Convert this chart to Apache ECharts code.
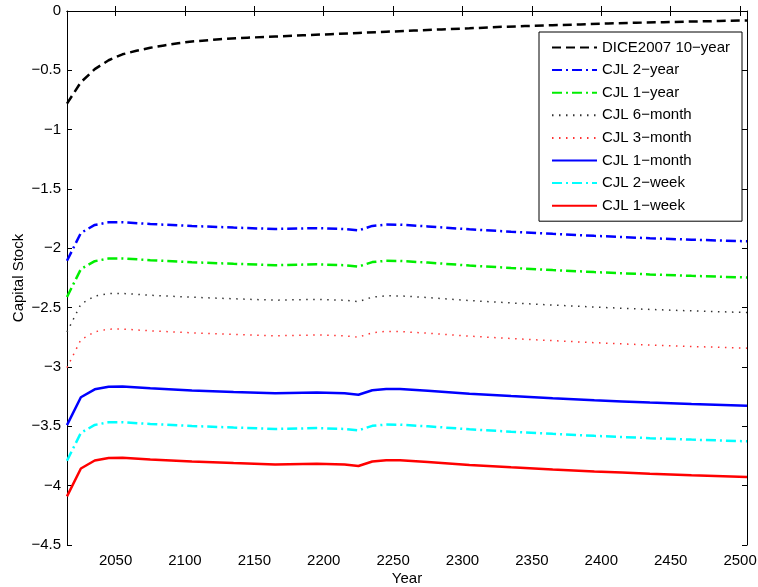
<!DOCTYPE html>
<html>
<head>
<meta charset="utf-8">
<script src="https://cdn.jsdelivr.net/npm/echarts@6/dist/echarts.min.js"></script>
<style>
  html, body { margin: 0; padding: 0; background: #fff; }
  #chart { width: 758px; height: 587px; }
</style>
</head>
<body>
<div id="chart"></div>
<script>
// Capital stock paths, DICE2007 10-year step vs CJL time steps
const diceYears = [2015, 2025, 2035, 2045, 2055, 2065, 2075, 2085, 2095, 2105, 2125, 2145, 2165, 2185, 2205,
  2225, 2245, 2265, 2285, 2305, 2325, 2345, 2365, 2385, 2405, 2425, 2445, 2465, 2485, 2505];
const dice10y = [-0.78, -0.60, -0.49, -0.415, -0.365, -0.335, -0.31, -0.29, -0.272, -0.257, -0.238, -0.225, -0.215, -0.205, -0.195,
  -0.185, -0.175, -0.165, -0.155, -0.146, -0.135, -0.127, -0.12, -0.113, -0.105, -0.099, -0.094, -0.089, -0.084, -0.08];

const cjlYears = [2015, 2025, 2035, 2045, 2055, 2075, 2105, 2135, 2165, 2195, 2215, 2225,
  2235, 2245, 2255, 2275, 2305, 2335, 2365, 2395, 2415, 2435, 2465, 2505];
const cjl2year = [-2.105, -1.87, -1.803, -1.781, -1.78, -1.795, -1.812, -1.825, -1.837, -1.83, -1.837, -1.849,
  -1.811, -1.80, -1.801, -1.815, -1.84, -1.86, -1.878, -1.895, -1.905, -1.915, -1.927, -1.941];
const cjl1year = [-2.41, -2.175, -2.108, -2.086, -2.085, -2.10, -2.117, -2.13, -2.142, -2.135, -2.142, -2.154,
  -2.116, -2.105, -2.106, -2.12, -2.145, -2.165, -2.183, -2.20, -2.21, -2.22, -2.232, -2.246];
const cjl6month = [-2.705, -2.47, -2.403, -2.381, -2.38, -2.395, -2.412, -2.425, -2.437, -2.43, -2.437, -2.449,
  -2.411, -2.40, -2.401, -2.415, -2.44, -2.46, -2.478, -2.495, -2.505, -2.515, -2.527, -2.541];
const cjl3month = [-3.005, -2.77, -2.703, -2.681, -2.68, -2.695, -2.712, -2.725, -2.737, -2.73, -2.737, -2.749,
  -2.711, -2.70, -2.701, -2.715, -2.74, -2.76, -2.778, -2.795, -2.805, -2.815, -2.827, -2.841];
const cjl1month = [-3.49, -3.255, -3.188, -3.166, -3.165, -3.18, -3.197, -3.21, -3.222, -3.215, -3.222, -3.234,
  -3.196, -3.185, -3.186, -3.20, -3.225, -3.245, -3.263, -3.28, -3.29, -3.30, -3.312, -3.326];
const cjl2week = [-3.79, -3.555, -3.488, -3.466, -3.465, -3.48, -3.497, -3.51, -3.522, -3.515, -3.522, -3.534,
  -3.496, -3.485, -3.486, -3.50, -3.525, -3.545, -3.563, -3.58, -3.59, -3.60, -3.612, -3.626];
const cjl1week = [-4.09, -3.855, -3.788, -3.766, -3.765, -3.78, -3.797, -3.81, -3.822, -3.815, -3.822, -3.834,
  -3.796, -3.785, -3.786, -3.80, -3.825, -3.845, -3.863, -3.88, -3.89, -3.90, -3.912, -3.926];

const xTicks = [2050, 2100, 2150, 2200, 2250, 2300, 2350, 2400, 2450, 2500];
const seriesNames = ['DICE2007 10\u2212year', 'CJL 2\u2212year', 'CJL 1\u2212year', 'CJL 6\u2212month',
  'CJL 3\u2212month', 'CJL 1\u2212month', 'CJL 2\u2212week', 'CJL 1\u2212week'];

const FONT = 'Liberation Sans, Arial, Helvetica, sans-serif';
const pair = (xs, ys) => xs.map((x, i) => [x, ys[i]]);

const styles = [
  { color: '#000000', width: 2.5, type: [9, 5] },
  { color: '#0000ff', width: 2.5, type: [10, 4, 2, 4] },
  { color: '#00ee00', width: 2.5, type: [10, 4, 2, 4] },
  { color: '#333333', width: 1.5, type: [1.5, 5.5] },
  { color: '#ff3333', width: 1.5, type: [1.5, 5.5] },
  { color: '#0000ff', width: 2.5, type: 'solid' },
  { color: '#00ffff', width: 2.5, type: [10, 4, 2, 4] },
  { color: '#ff0000', width: 2.5, type: 'solid' }
];
const dataSets = [
  pair(diceYears, dice10y), pair(cjlYears, cjl2year), pair(cjlYears, cjl1year), pair(cjlYears, cjl6month),
  pair(cjlYears, cjl3month), pair(cjlYears, cjl1month), pair(cjlYears, cjl2week), pair(cjlYears, cjl1week)
];

const minus = v => String(v).replace('-', '\u2212');
const axisLineStyle = { lineStyle: { color: '#000', width: 1 } };

const chart = echarts.init(document.getElementById('chart'), null, { renderer: 'canvas' });
chart.setOption({
  backgroundColor: '#fff',
  animation: false,
  grid: { left: 67, right: 11, top: 11, bottom: 42, containLabel: false, outerBoundsMode: 'none' },
  legend: {
    orient: 'vertical',
    right: 16, top: 32,
    backgroundColor: '#fff',
    borderColor: '#000', borderWidth: 1, borderRadius: 0,
    padding: [8, 12, 8, 12],
    itemWidth: 45, itemHeight: 14, itemGap: 7.6,
    itemStyle: { opacity: 0 },
    textStyle: { fontFamily: FONT, fontSize: 15, color: '#000' },
    data: seriesNames
  },
  xAxis: [{
    type: 'value', min: 2015, max: 2505,
    name: 'Year', nameLocation: 'middle', nameGap: 26, nameMoveOverlap: false,
    nameTextStyle: { fontFamily: FONT, fontSize: 15, color: '#000' },
    axisLine: axisLineStyle,
    splitLine: { show: false },
    axisTick: { inside: true, length: 5, customValues: xTicks, lineStyle: { color: '#000' } },
    axisLabel: { customValues: xTicks, margin: 8, fontFamily: FONT, fontSize: 15, color: '#000', formatter: v => String(v) }
  }, {
    type: 'value', min: 2015, max: 2505, position: 'top',
    axisLine: axisLineStyle, splitLine: { show: false },
    axisTick: { inside: true, length: 5, customValues: xTicks, lineStyle: { color: '#000' } },
    axisLabel: { show: false }
  }],
  yAxis: [{
    type: 'value', min: -4.5, max: 0, interval: 0.5,
    name: 'Capital Stock', nameLocation: 'middle', nameGap: 41, nameMoveOverlap: false,
    nameTextStyle: { fontFamily: FONT, fontSize: 15, color: '#000' },
    axisLine: { show: true, lineStyle: { color: '#000', width: 1 } },
    splitLine: { show: false },
    axisTick: { show: true, inside: true, length: 5, lineStyle: { color: '#000' } },
    axisLabel: { margin: 6, fontFamily: FONT, fontSize: 15, color: '#000', formatter: minus }
  }, {
    type: 'value', min: -4.5, max: 0, interval: 0.5, position: 'right',
    axisLine: { show: true, lineStyle: { color: '#000', width: 1 } },
    splitLine: { show: false },
    axisTick: { show: true, inside: true, length: 5, lineStyle: { color: '#000' } },
    axisLabel: { show: false }
  }],
  series: seriesNames.map((name, i) => ({
    name,
    type: 'line',
    data: dataSets[i],
    showSymbol: false,
    symbol: 'none',
    smooth: false,
    z: 10 - i,
    lineStyle: { color: styles[i].color, width: styles[i].width, type: styles[i].type },
    itemStyle: { color: styles[i].color }
  }))
});
</script>
</body>
</html>
